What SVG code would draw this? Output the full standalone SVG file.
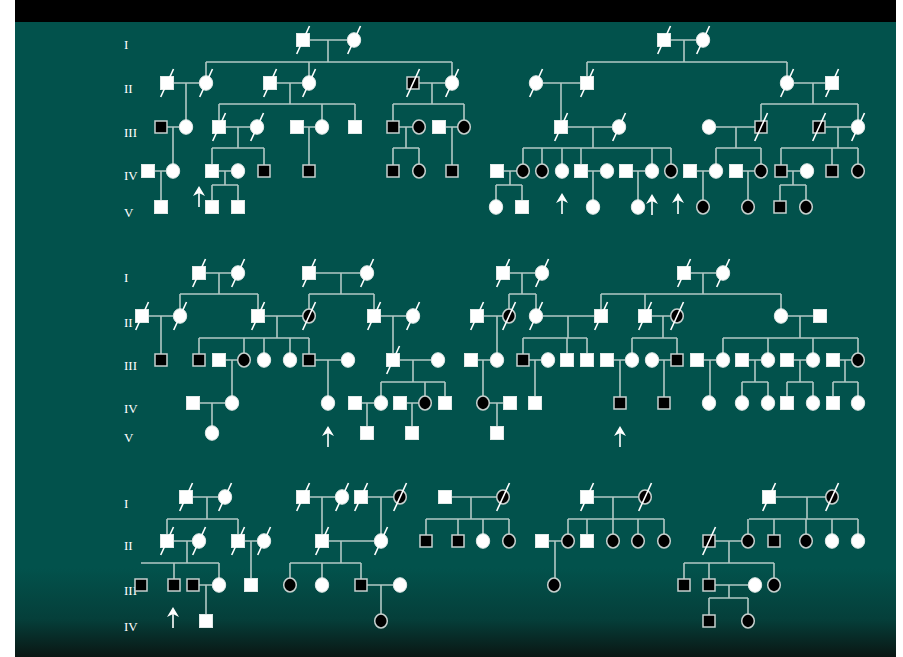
<svg xmlns="http://www.w3.org/2000/svg" xmlns:xlink="http://www.w3.org/1999/xlink" width="903" height="657" viewBox="0 0 903 657">
<style>
.ln{stroke:#b2c9c5;stroke-width:1.6;fill:none}
.w{fill:#fff;stroke:#dfe8e6;stroke-width:1}
.b{fill:#000;stroke:#c6d0ce;stroke-width:1.5}
.sl{stroke:#fff;stroke-width:1.6}
.lab{font-family:"Liberation Serif","Times New Roman",serif;font-size:13px;fill:#fff}
</style>
<defs>
<linearGradient id="bg" x1="0" y1="0" x2="0" y2="1">
<stop offset="0" stop-color="#02524c"/>
<stop offset="0.86" stop-color="#02524c"/>
<stop offset="0.94" stop-color="#053f3a"/>
<stop offset="1" stop-color="#0a1613"/>
</linearGradient>
<rect id="M" class="w" x="-6.5" y="-6.5" width="13" height="13"/>
<rect id="MA" class="b" x="-6" y="-6" width="12" height="12"/>
<ellipse id="F" class="w" rx="6.7" ry="7.3"/>
<ellipse id="FA" class="b" rx="6.3" ry="6.9"/>
<line id="D" class="sl" x1="-6.3" y1="14" x2="6.5" y2="-14"/>
<g id="A"><path d="M0,0 L6,10 L0,7 L-6,10 Z" fill="#fff"/><line x1="0" y1="5" x2="0" y2="21" stroke="#fff" stroke-width="1.6"/></g>
</defs>
<rect x="0" y="0" width="903" height="657" fill="#fff"/>
<rect x="15" y="22" width="881" height="635" fill="url(#bg)"/>
<rect x="15" y="0" width="881" height="22" fill="#000"/>
<g id="labels" class="lab">
<text x="124" y="49">I</text><text x="124" y="93">II</text><text x="124" y="137">III</text><text x="124" y="180">IV</text><text x="124" y="217">V</text>
<text x="124" y="282">I</text><text x="124" y="327">II</text><text x="124" y="370">III</text><text x="124" y="413">IV</text><text x="124" y="442">V</text>
<text x="124" y="508">I</text><text x="124" y="550">II</text><text x="124" y="595">III</text><text x="124" y="631">IV</text>
</g>
<g id="connectors" class="ln">
<path d="M303,40H354M328,40V62M206,62H452M206,62V83M309,62V83M452,62V83"/>
<path d="M167,83H206M186,83V127M161,127H186M173,127V171M148,171H173M161,171V207"/>
<path d="M270,83H309M290,83V104M219,104H355M219,104V127M322,104V127M355,104V127"/>
<path d="M219,127H257M238,127V148M212,148H264M212,148V171M264,148V171M212,171H238M225,171V185M212,185H238M212,185V207M238,185V207"/>
<path d="M297,127H322M309,127V171"/>
<path d="M413,83H452M432,83V104M393,104H464M393,104V127M464,104V127M393,127H419M406,127V148M393,148H419M393,148V171M419,148V171M439,127H464M452,127V171"/>
<path d="M664,40H703M684,40V62M587,62H787M587,62V83M787,62V83M536,83H587M561,83V127"/>
<path d="M561,127H619M593,127V148M523,148H671M523,148V171M542,148V171M562,148V171M581,148V171M652,148V171M671,148V171"/>
<path d="M497,171H523M510,171V185M496,185H522M496,185V207M522,185V207M581,171H607M593,171V207M626,171H652M638,171V207"/>
<path d="M787,83H832M813,83V104M761,104H858M761,104V127M858,104V127M709,127H761M736,127V148M716,148H761M716,148V171M761,148V171"/>
<path d="M690,171H716M703,171V207M736,171H761M748,171V207"/>
<path d="M819,127H858M838,127V148M781,148H858M781,148V171M832,148V171M858,148V171M781,171H807M793,171V185M780,185H806M780,185V207M806,185V207"/>
<path d="M199,273H238M219,273V294M180,294H258M180,294V316M258,294V316M142,316H180M161,316V360"/>
<path d="M309,273H367M341,273V294M309,294H374M309,294V316M374,294V316"/>
<path d="M258,316H309M277,316V338M199,338H309M199,338V360M244,338V360M264,338V360M290,338V360M309,338V360"/>
<path d="M219,360H244M232,360V403M193,403H232M212,403V433M309,360H348M328,360V403"/>
<path d="M374,316H413M393,316V360M393,360H438M413,360V382M381,382H445M381,382V403M425,382V403M445,382V403M355,403H381M367,403V433M400,403H425M412,403V433"/>
<path d="M503,273H542M522,273V294M509,294H536M509,294V316M536,294V316M477,316H509M497,316V360M471,360H497M483,360V403M483,403H510M497,403V433"/>
<path d="M536,316H601M568,316V338M523,338H587M523,338V360M567,338V360M587,338V360M523,360H548M535,360V403"/>
<path d="M684,273H723M703,273V294M601,294H781M601,294V316M645,294V316M781,294V316"/>
<path d="M645,316H677M663,316V338M632,338H677M632,338V360M677,338V360M607,360H632M620,360V403M652,360H677M664,360V403"/>
<path d="M781,316H820M800,316V338M723,338H858M723,338V360M768,338V360M813,338V360M858,338V360M697,360H723M710,360V403"/>
<path d="M742,360H768M755,360V382M742,382H768M742,382V403M768,382V403M787,360H813M800,360V382M787,382H813M787,382V403M813,382V403M833,360H858M845,360V382M833,382H858M833,382V403M858,382V403"/>
<path d="M186,497H225M207,497V519M167,519H238M167,519V541M238,519V541M167,541H199M187,541V563M141,563H219M174,563V585M219,563V585M193,585H219M206,585V621M238,541H264M251,541V585"/>
<path d="M303,497H342M322,497V541M361,497H400M381,497V541M322,541H381M341,541V563M290,563H361M290,563V585M322,563V585M361,563V585M361,585H400M381,585V621"/>
<path d="M445,497H503M471,497V519M426,519H509M426,519V541M458,519V541M483,519V541M509,519V541"/>
<path d="M587,497H645M613,497V519M568,519H664M568,519V541M587,519V541M613,519V541M638,519V541M664,519V541M542,541H568M555,541V585"/>
<path d="M769,497H832M807,497V519M749,519H858M748,519V541M774,519V541M806,519V541M832,519V541M858,519V541M709,541H748M729,541V563M684,563H774M684,563V585M709,563V585M774,563V585M709,585H755M729,585V598M709,598H748M709,598V621M748,598V621"/>
</g>
<g id="arrows">
<use href="#A" x="199" y="186"/><use href="#A" x="562" y="193"/><use href="#A" x="652" y="194"/><use href="#A" x="678" y="193"/>
<use href="#A" x="328" y="426"/><use href="#A" x="620" y="426"/><use href="#A" x="173" y="607"/>
</g>
<g id="nodes">
<g id="t1"><use href="#M" x="303" y="40"/><use href="#D" x="303" y="40"/></g>
<g id="t2"><use href="#F" x="354" y="40"/><use href="#D" x="354" y="40"/></g>
<g id="t3"><use href="#M" x="167" y="83"/><use href="#D" x="167" y="83"/></g>
<g id="t4"><use href="#F" x="206" y="83"/><use href="#D" x="206" y="83"/></g>
<g id="t5"><use href="#M" x="270" y="83"/><use href="#D" x="270" y="83"/></g>
<g id="t6"><use href="#F" x="309" y="83"/><use href="#D" x="309" y="83"/></g>
<g id="t7"><use href="#MA" x="413" y="83"/><use href="#D" x="413" y="83"/></g>
<g id="t8"><use href="#F" x="452" y="83"/><use href="#D" x="452" y="83"/></g>
<g id="t9"><use href="#MA" x="161" y="127"/></g>
<g id="t10"><use href="#F" x="186" y="127"/></g>
<g id="t11"><use href="#M" x="219" y="127"/><use href="#D" x="219" y="127"/></g>
<g id="t12"><use href="#F" x="257" y="127"/><use href="#D" x="257" y="127"/></g>
<g id="t13"><use href="#M" x="297" y="127"/></g>
<g id="t14"><use href="#F" x="322" y="127"/></g>
<g id="t15"><use href="#M" x="355" y="127"/></g>
<g id="t16"><use href="#MA" x="393" y="127"/></g>
<g id="t17"><use href="#FA" x="419" y="127"/></g>
<g id="t18"><use href="#M" x="439" y="127"/></g>
<g id="t19"><use href="#FA" x="464" y="127"/></g>
<g id="t20"><use href="#M" x="148" y="171"/></g>
<g id="t21"><use href="#F" x="173" y="171"/></g>
<g id="t22"><use href="#M" x="212" y="171"/></g>
<g id="t23"><use href="#F" x="238" y="171"/></g>
<g id="t24"><use href="#MA" x="264" y="171"/></g>
<g id="t25"><use href="#MA" x="309" y="171"/></g>
<g id="t26"><use href="#MA" x="393" y="171"/></g>
<g id="t27"><use href="#FA" x="419" y="171"/></g>
<g id="t28"><use href="#MA" x="452" y="171"/></g>
<g id="t29"><use href="#M" x="161" y="207"/></g>
<g id="t30"><use href="#M" x="212" y="207"/></g>
<g id="t31"><use href="#M" x="238" y="207"/></g>

<g id="r1"><use href="#M" x="664" y="40"/><use href="#D" x="664" y="40"/></g>
<g id="r2"><use href="#F" x="703" y="40"/><use href="#D" x="703" y="40"/></g>
<g id="r3"><use href="#F" x="536" y="83"/><use href="#D" x="536" y="83"/></g>
<g id="r4"><use href="#M" x="587" y="83"/><use href="#D" x="587" y="83"/></g>
<g id="r5"><use href="#F" x="787" y="83"/><use href="#D" x="787" y="83"/></g>
<g id="r6"><use href="#M" x="832" y="83"/><use href="#D" x="832" y="83"/></g>
<g id="r7"><use href="#M" x="561" y="127"/><use href="#D" x="561" y="127"/></g>
<g id="r8"><use href="#F" x="619" y="127"/><use href="#D" x="619" y="127"/></g>
<g id="r9"><use href="#F" x="709" y="127"/></g>
<g id="r10"><use href="#MA" x="761" y="127"/><use href="#D" x="761" y="127"/></g>
<g id="r11"><use href="#MA" x="819" y="127"/><use href="#D" x="819" y="127"/></g>
<g id="r12"><use href="#F" x="858" y="127"/><use href="#D" x="858" y="127"/></g>
<g id="r13"><use href="#M" x="497" y="171"/></g>
<g id="r14"><use href="#FA" x="523" y="171"/></g>
<g id="r15"><use href="#FA" x="542" y="171"/></g>
<g id="r16"><use href="#F" x="562" y="171"/></g>
<g id="r17"><use href="#M" x="581" y="171"/></g>
<g id="r18"><use href="#F" x="607" y="171"/></g>
<g id="r19"><use href="#M" x="626" y="171"/></g>
<g id="r20"><use href="#F" x="652" y="171"/></g>
<g id="r21"><use href="#FA" x="671" y="171"/></g>
<g id="r22"><use href="#M" x="690" y="171"/></g>
<g id="r23"><use href="#F" x="716" y="171"/></g>
<g id="r24"><use href="#M" x="736" y="171"/></g>
<g id="r25"><use href="#FA" x="761" y="171"/></g>
<g id="r26"><use href="#MA" x="781" y="171"/></g>
<g id="r27"><use href="#F" x="807" y="171"/></g>
<g id="r28"><use href="#MA" x="832" y="171"/></g>
<g id="r29"><use href="#FA" x="858" y="171"/></g>
<g id="r30"><use href="#F" x="496" y="207"/></g>
<g id="r31"><use href="#M" x="522" y="207"/></g>
<g id="r32"><use href="#F" x="593" y="207"/></g>
<g id="r33"><use href="#F" x="638" y="207"/></g>
<g id="r34"><use href="#FA" x="703" y="207"/></g>
<g id="r35"><use href="#FA" x="748" y="207"/></g>
<g id="r36"><use href="#MA" x="780" y="207"/></g>
<g id="r37"><use href="#FA" x="806" y="207"/></g>

<g id="m1"><use href="#M" x="199" y="273"/><use href="#D" x="199" y="273"/></g>
<g id="m2"><use href="#F" x="238" y="273"/><use href="#D" x="238" y="273"/></g>
<g id="m3"><use href="#M" x="309" y="273"/><use href="#D" x="309" y="273"/></g>
<g id="m4"><use href="#F" x="367" y="273"/><use href="#D" x="367" y="273"/></g>
<g id="m5"><use href="#M" x="142" y="316"/><use href="#D" x="142" y="316"/></g>
<g id="m6"><use href="#F" x="180" y="316"/><use href="#D" x="180" y="316"/></g>
<g id="m7"><use href="#M" x="258" y="316"/><use href="#D" x="258" y="316"/></g>
<g id="m8"><use href="#FA" x="309" y="316"/><use href="#D" x="309" y="316"/></g>
<g id="m9"><use href="#M" x="374" y="316"/><use href="#D" x="374" y="316"/></g>
<g id="m10"><use href="#F" x="413" y="316"/><use href="#D" x="413" y="316"/></g>
<g id="m11"><use href="#MA" x="161" y="360"/></g>
<g id="m12"><use href="#MA" x="199" y="360"/></g>
<g id="m13"><use href="#M" x="219" y="360"/></g>
<g id="m14"><use href="#FA" x="244" y="360"/></g>
<g id="m15"><use href="#F" x="264" y="360"/></g>
<g id="m16"><use href="#F" x="290" y="360"/></g>
<g id="m17"><use href="#MA" x="309" y="360"/></g>
<g id="m18"><use href="#F" x="348" y="360"/></g>
<g id="m19"><use href="#M" x="393" y="360"/><use href="#D" x="393" y="360"/></g>
<g id="m20"><use href="#F" x="438" y="360"/></g>
<g id="m21"><use href="#M" x="193" y="403"/></g>
<g id="m22"><use href="#F" x="232" y="403"/></g>
<g id="m23"><use href="#F" x="328" y="403"/></g>
<g id="m24"><use href="#M" x="355" y="403"/></g>
<g id="m25"><use href="#F" x="381" y="403"/></g>
<g id="m26"><use href="#M" x="400" y="403"/></g>
<g id="m27"><use href="#FA" x="425" y="403"/></g>
<g id="m28"><use href="#M" x="445" y="403"/></g>
<g id="m29"><use href="#F" x="212" y="433"/></g>
<g id="m30"><use href="#M" x="367" y="433"/></g>
<g id="m31"><use href="#M" x="412" y="433"/></g>

<g id="n1"><use href="#M" x="503" y="273"/><use href="#D" x="503" y="273"/></g>
<g id="n2"><use href="#F" x="542" y="273"/><use href="#D" x="542" y="273"/></g>
<g id="n3"><use href="#M" x="684" y="273"/><use href="#D" x="684" y="273"/></g>
<g id="n4"><use href="#F" x="723" y="273"/><use href="#D" x="723" y="273"/></g>
<g id="n5"><use href="#M" x="477" y="316"/><use href="#D" x="477" y="316"/></g>
<g id="n6"><use href="#FA" x="509" y="316"/><use href="#D" x="509" y="316"/></g>
<g id="n7"><use href="#F" x="536" y="316"/><use href="#D" x="536" y="316"/></g>
<g id="n8"><use href="#M" x="601" y="316"/><use href="#D" x="601" y="316"/></g>
<g id="n9"><use href="#M" x="645" y="316"/><use href="#D" x="645" y="316"/></g>
<g id="n10"><use href="#FA" x="677" y="316"/><use href="#D" x="677" y="316"/></g>
<g id="n11"><use href="#F" x="781" y="316"/></g>
<g id="n12"><use href="#M" x="820" y="316"/></g>
<g id="n13"><use href="#M" x="471" y="360"/></g>
<g id="n14"><use href="#F" x="497" y="360"/></g>
<g id="n15"><use href="#MA" x="523" y="360"/></g>
<g id="n16"><use href="#F" x="548" y="360"/></g>
<g id="n17"><use href="#M" x="567" y="360"/></g>
<g id="n18"><use href="#M" x="587" y="360"/></g>
<g id="n19"><use href="#M" x="607" y="360"/></g>
<g id="n20"><use href="#F" x="632" y="360"/></g>
<g id="n21"><use href="#F" x="652" y="360"/></g>
<g id="n22"><use href="#MA" x="677" y="360"/></g>
<g id="n23"><use href="#M" x="697" y="360"/></g>
<g id="n24"><use href="#F" x="723" y="360"/></g>
<g id="n25"><use href="#M" x="742" y="360"/></g>
<g id="n26"><use href="#F" x="768" y="360"/></g>
<g id="n27"><use href="#M" x="787" y="360"/></g>
<g id="n28"><use href="#F" x="813" y="360"/></g>
<g id="n29"><use href="#M" x="833" y="360"/></g>
<g id="n30"><use href="#FA" x="858" y="360"/></g>
<g id="n31"><use href="#FA" x="483" y="403"/></g>
<g id="n32"><use href="#M" x="510" y="403"/></g>
<g id="n33"><use href="#M" x="535" y="403"/></g>
<g id="n34"><use href="#MA" x="620" y="403"/></g>
<g id="n35"><use href="#MA" x="664" y="403"/></g>
<g id="n36"><use href="#F" x="709" y="403"/></g>
<g id="n37"><use href="#F" x="742" y="403"/></g>
<g id="n38"><use href="#F" x="768" y="403"/></g>
<g id="n39"><use href="#M" x="787" y="403"/></g>
<g id="n40"><use href="#F" x="813" y="403"/></g>
<g id="n41"><use href="#M" x="833" y="403"/></g>
<g id="n42"><use href="#F" x="858" y="403"/></g>
<g id="n43"><use href="#M" x="497" y="433"/></g>

<g id="b1"><use href="#M" x="186" y="497"/><use href="#D" x="186" y="497"/></g>
<g id="b2"><use href="#F" x="225" y="497"/><use href="#D" x="225" y="497"/></g>
<g id="b3"><use href="#M" x="167" y="541"/><use href="#D" x="167" y="541"/></g>
<g id="b4"><use href="#F" x="199" y="541"/><use href="#D" x="199" y="541"/></g>
<g id="b5"><use href="#M" x="238" y="541"/><use href="#D" x="238" y="541"/></g>
<g id="b6"><use href="#F" x="264" y="541"/><use href="#D" x="264" y="541"/></g>
<g id="b7"><use href="#MA" x="141" y="585"/></g>
<g id="b8"><use href="#MA" x="174" y="585"/></g>
<g id="b9"><use href="#MA" x="193" y="585"/></g>
<g id="b10"><use href="#F" x="219" y="585"/></g>
<g id="b11"><use href="#M" x="251" y="585"/></g>
<g id="b12"><use href="#M" x="206" y="621"/></g>

<g id="c1"><use href="#M" x="303" y="497"/><use href="#D" x="303" y="497"/></g>
<g id="c2"><use href="#F" x="342" y="497"/><use href="#D" x="342" y="497"/></g>
<g id="c3"><use href="#M" x="361" y="497"/><use href="#D" x="361" y="497"/></g>
<g id="c4"><use href="#FA" x="400" y="497"/><use href="#D" x="400" y="497"/></g>
<g id="c5"><use href="#M" x="322" y="541"/><use href="#D" x="322" y="541"/></g>
<g id="c6"><use href="#F" x="381" y="541"/><use href="#D" x="381" y="541"/></g>
<g id="c7"><use href="#FA" x="290" y="585"/></g>
<g id="c8"><use href="#F" x="322" y="585"/></g>
<g id="c9"><use href="#MA" x="361" y="585"/></g>
<g id="c10"><use href="#F" x="400" y="585"/></g>
<g id="c11"><use href="#FA" x="381" y="621"/></g>

<g id="d1"><use href="#M" x="445" y="497"/></g>
<g id="d2"><use href="#FA" x="503" y="497"/><use href="#D" x="503" y="497"/></g>
<g id="d3"><use href="#MA" x="426" y="541"/></g>
<g id="d4"><use href="#MA" x="458" y="541"/></g>
<g id="d5"><use href="#F" x="483" y="541"/></g>
<g id="d6"><use href="#FA" x="509" y="541"/></g>

<g id="e1"><use href="#M" x="587" y="497"/><use href="#D" x="587" y="497"/></g>
<g id="e2"><use href="#FA" x="645" y="497"/><use href="#D" x="645" y="497"/></g>
<g id="e3"><use href="#M" x="542" y="541"/></g>
<g id="e4"><use href="#FA" x="568" y="541"/></g>
<g id="e5"><use href="#M" x="587" y="541"/></g>
<g id="e6"><use href="#FA" x="613" y="541"/></g>
<g id="e7"><use href="#FA" x="638" y="541"/></g>
<g id="e8"><use href="#FA" x="664" y="541"/></g>
<g id="e9"><use href="#FA" x="554" y="585"/></g>

<g id="f1"><use href="#M" x="769" y="497"/><use href="#D" x="769" y="497"/></g>
<g id="f2"><use href="#FA" x="832" y="497"/><use href="#D" x="832" y="497"/></g>
<g id="f3"><use href="#MA" x="709" y="541"/><use href="#D" x="709" y="541"/></g>
<g id="f4"><use href="#FA" x="748" y="541"/></g>
<g id="f5"><use href="#MA" x="774" y="541"/></g>
<g id="f6"><use href="#FA" x="806" y="541"/></g>
<g id="f7"><use href="#F" x="832" y="541"/></g>
<g id="f8"><use href="#F" x="858" y="541"/></g>
<g id="f9"><use href="#MA" x="684" y="585"/></g>
<g id="f10"><use href="#MA" x="709" y="585"/></g>
<g id="f11"><use href="#F" x="755" y="585"/></g>
<g id="f12"><use href="#FA" x="774" y="585"/></g>
<g id="f13"><use href="#MA" x="709" y="621"/></g>
<g id="f14"><use href="#FA" x="748" y="621"/></g>
</g>
</svg>
